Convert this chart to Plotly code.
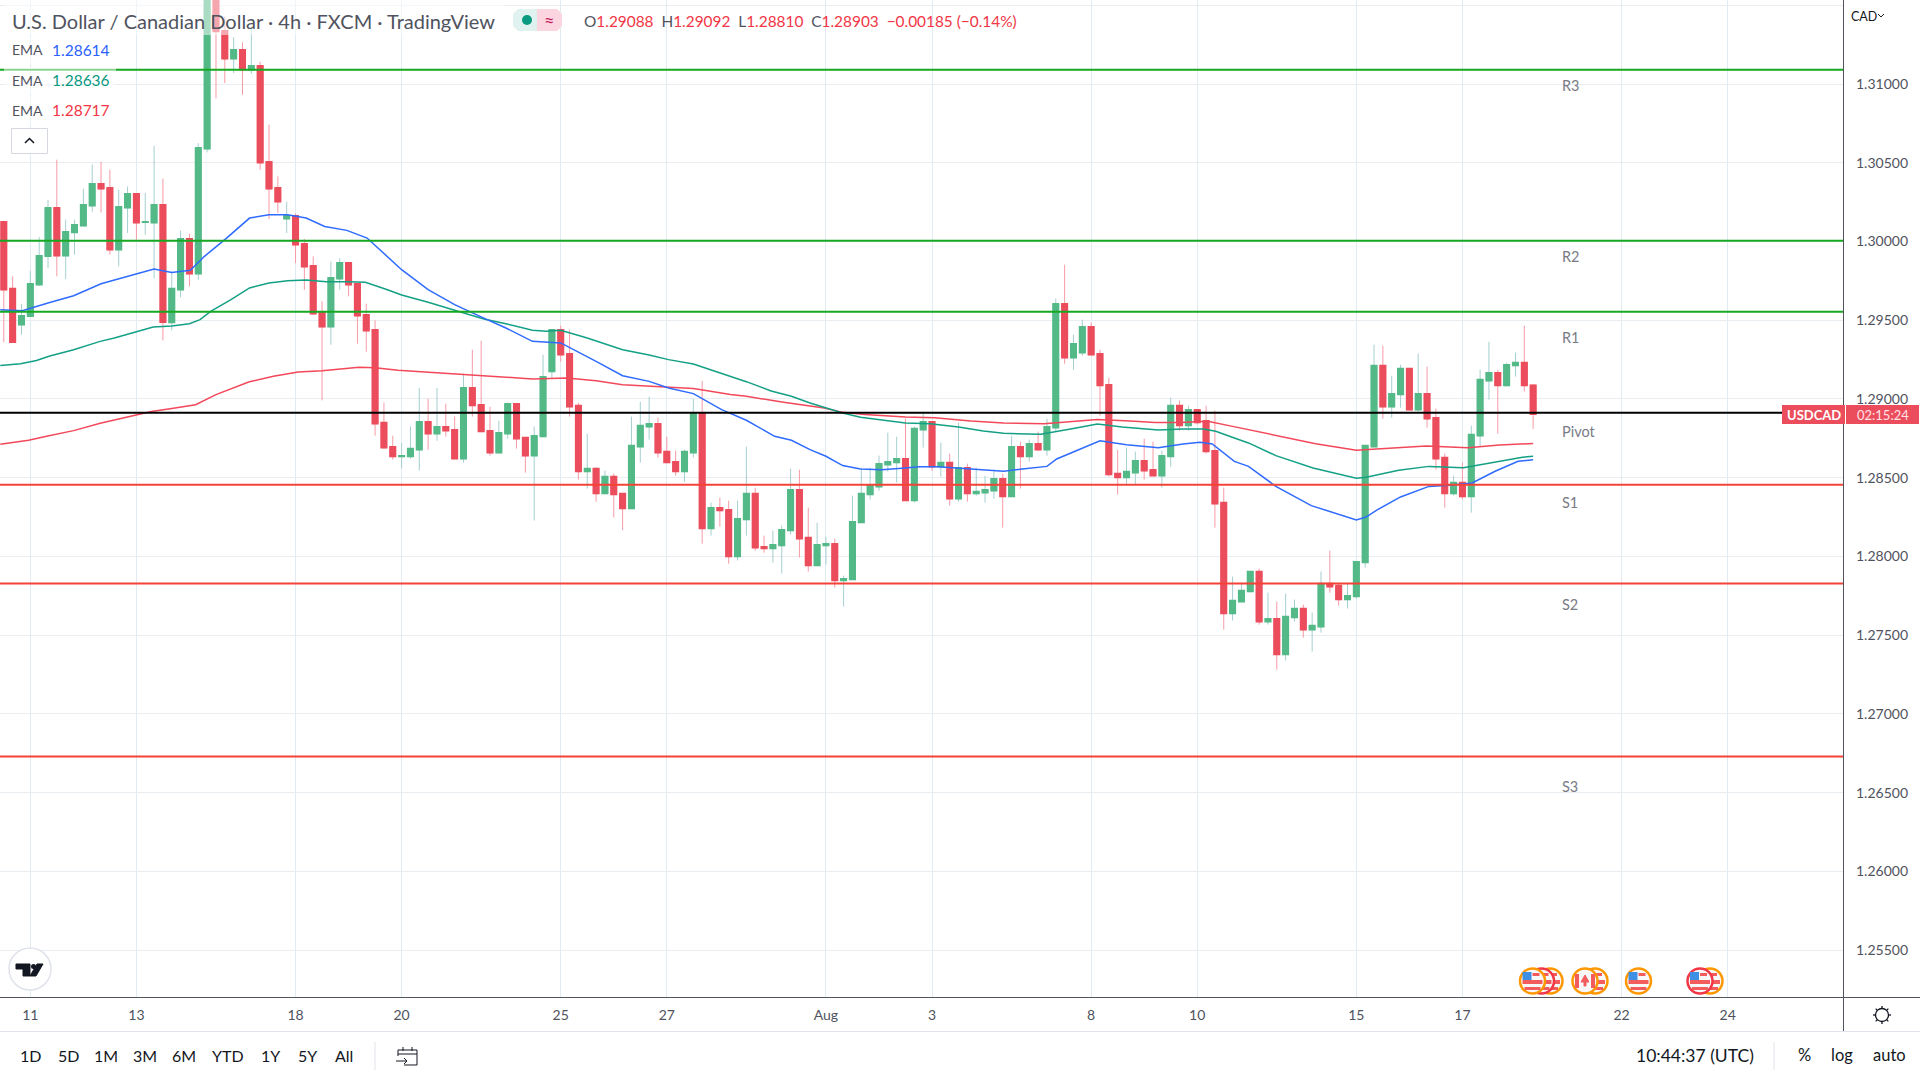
"""USD/CAD 4h candles with EMAs and pivot levels, TradingView style."""

import math

import plotly.graph_objects as go

# first bar sits three bars left of the 11 Jul tick
bar_index = list(range(-3, 171))

opens = [
    1.30126, 1.29701, 1.29472, 1.29525, 1.29726, 1.29906, 1.30215, 1.2991, 1.30058, 1.301,
    1.30228, 1.30367, 1.30342, 1.29948, 1.30215, 1.30304, 1.30122, 1.3012, 1.30234, 1.29485,
    1.29694, 1.30018, 1.29796, 1.30589, 1.3165, 1.31339, 1.31161, 1.31218, 1.31091, 1.31116,
    1.30507, 1.30342, 1.30145, 1.30164, 1.29986, 1.29847, 1.2955, 1.29459, 1.29764, 1.29866,
    1.29732, 1.29535, 1.2944, 1.2885, 1.28697, 1.28634, 1.28634, 1.28678, 1.28856, 1.2878,
    1.28824, 1.28805, 1.28621, 1.29072, 1.28964, 1.28799, 1.28659, 1.2878, 1.2897, 1.28755,
    1.2864, 1.28761, 1.29174, 1.2944, 1.29288, 1.28958, 1.28539, 1.28558, 1.28399, 1.28507,
    1.28399, 1.28304, 1.28697, 1.28824, 1.28843, 1.28666, 1.28602, 1.28539, 1.28659, 1.28913,
    1.28177, 1.2831, 1.28297, 1.27999, 1.28234, 1.28399, 1.28062, 1.2805, 1.28069, 1.28164,
    1.28424, 1.2812, 1.27942, 1.28069, 1.28081, 1.27847, 1.27853, 1.28215, 1.28393, 1.28443,
    1.28583, 1.28596, 1.28621, 1.28355, 1.28805, 1.28856, 1.2857, 1.28596, 1.28367, 1.28564,
    1.28399, 1.28405, 1.28418, 1.28494, 1.2838, 1.28697, 1.28634, 1.28716, 1.28678, 1.28818,
    1.29605, 1.29262, 1.29294, 1.29459, 1.29288, 1.29091, 1.28526, 1.28501, 1.28532, 1.28608,
    1.28551, 1.28513, 1.28634, 1.28958, 1.28831, 1.28932, 1.28862, 1.28672, 1.28342, 1.27637,
    1.27713, 1.27777, 1.27904, 1.27586, 1.27605, 1.27377, 1.27612, 1.27669, 1.27535, 1.27554,
    1.27828, 1.27815, 1.27726, 1.27745, 1.27961, 1.28697, 1.29212, 1.28951, 1.29028, 1.29193,
    1.28932, 1.29034, 1.28881, 1.28628, 1.28399, 1.28469, 1.2838, 1.28767, 1.29116, 1.29167,
    1.29085, 1.29212, 1.29231, 1.29088,
]
highs = [
    1.30126, 1.29779, 1.29605, 1.29815, 1.30029, 1.30266, 1.3052, 1.30139, 1.30139, 1.30335,
    1.30488, 1.30507, 1.30456, 1.30329, 1.3035, 1.30304, 1.30308, 1.30608, 1.30399, 1.29811,
    1.30069, 1.3005, 1.30625, 1.3168, 1.317, 1.3143, 1.31298, 1.31265, 1.31366, 1.31142,
    1.30742, 1.30414, 1.30253, 1.30177, 1.30016, 1.29906, 1.2962, 1.29872, 1.29895, 1.29866,
    1.29732, 1.29605, 1.295, 1.28977, 1.28767, 1.28721, 1.28826, 1.2907, 1.29002, 1.2907,
    1.2897, 1.2889, 1.29161, 1.29313, 1.2937, 1.28951, 1.28862, 1.28977, 1.2897, 1.28755,
    1.28826, 1.29281, 1.29444, 1.29466, 1.2944, 1.28977, 1.2878, 1.28564, 1.28545, 1.28526,
    1.28399, 1.28888, 1.28983, 1.29015, 1.28881, 1.28761, 1.28672, 1.28678, 1.29002, 1.29116,
    1.28342, 1.28374, 1.28355, 1.28355, 1.28697, 1.28437, 1.28132, 1.28164, 1.28196, 1.28558,
    1.28551, 1.2831, 1.28215, 1.28126, 1.28113, 1.27878, 1.28386, 1.28564, 1.28564, 1.2864,
    1.28786, 1.28761, 1.28875, 1.28824, 1.2892, 1.28856, 1.28723, 1.28653, 1.2885, 1.28589,
    1.28564, 1.28513, 1.28551, 1.28526, 1.28767, 1.28729, 1.28742, 1.28793, 1.28875, 1.29637,
    1.29853, 1.29408, 1.29504, 1.29485, 1.29313, 1.29135, 1.28678, 1.28691, 1.28666, 1.28748,
    1.28729, 1.28672, 1.29008, 1.28989, 1.28958, 1.28932, 1.28958, 1.28926, 1.28437, 1.27872,
    1.27828, 1.27904, 1.27923, 1.2777, 1.27713, 1.27764, 1.27726, 1.27694, 1.27644, 1.27904,
    1.28037, 1.27828, 1.27828, 1.27967, 1.28704, 1.29345, 1.29339, 1.29148, 1.29218, 1.29193,
    1.29288, 1.29205, 1.28939, 1.28653, 1.28513, 1.28596, 1.28831, 1.29186, 1.29364, 1.29186,
    1.29231, 1.29294, 1.29466, 1.29092,
]
lows = [
    1.2936, 1.2936, 1.29408, 1.29525, 1.2972, 1.2983, 1.29779, 1.29762, 1.29916, 1.301,
    1.30189, 1.30185, 1.29916, 1.29842, 1.30054, 1.30012, 1.30043, 1.29766, 1.29372, 1.29436,
    1.29646, 1.29715, 1.29758, 1.30566, 1.30909, 1.31006, 1.3107, 1.30932, 1.31066, 1.30456,
    1.30143, 1.30181, 1.30054, 1.29863, 1.29694, 1.29535, 1.28991, 1.29345, 1.29694, 1.29652,
    1.29351, 1.293, 1.28767, 1.28685, 1.28615, 1.28558, 1.28621, 1.28545, 1.28678, 1.28735,
    1.28761, 1.28621, 1.28596, 1.28888, 1.28793, 1.2864, 1.28659, 1.28748, 1.28685, 1.28532,
    1.28228, 1.28761, 1.29127, 1.29237, 1.28888, 1.28488, 1.28431, 1.28348, 1.28399, 1.28247,
    1.28166, 1.28304, 1.28596, 1.28742, 1.28628, 1.28596, 1.28513, 1.28475, 1.28628, 1.28081,
    1.28132, 1.28189, 1.27954, 1.27974, 1.28132, 1.28037, 1.28024, 1.27961, 1.27891, 1.28139,
    1.27993, 1.27904, 1.27942, 1.27948, 1.27802, 1.27681, 1.27853, 1.28215, 1.28361, 1.28418,
    1.28539, 1.28469, 1.28355, 1.28342, 1.28691, 1.28545, 1.28507, 1.28323, 1.28348, 1.28348,
    1.28386, 1.28342, 1.28367, 1.28183, 1.2838, 1.28431, 1.28602, 1.28672, 1.2864, 1.28793,
    1.29224, 1.29186, 1.29275, 1.29281, 1.28894, 1.28507, 1.28393, 1.28456, 1.28456, 1.28488,
    1.28513, 1.28437, 1.2857, 1.28799, 1.28799, 1.28837, 1.28653, 1.28183, 1.27535, 1.27593,
    1.27713, 1.27777, 1.27567, 1.27567, 1.27281, 1.27339, 1.27586, 1.27485, 1.27396, 1.27516,
    1.2777, 1.27688, 1.27669, 1.27732, 1.27929, 1.28697, 1.28875, 1.28881, 1.28945, 1.28926,
    1.2892, 1.28818, 1.28551, 1.2831, 1.28386, 1.28361, 1.28278, 1.28697, 1.28996, 1.2878,
    1.29085, 1.29142, 1.29047, 1.2881,
]
closes = [
    1.29694, 1.2936, 1.29529, 1.29732, 1.2991, 1.30215, 1.2991, 1.30062, 1.30107, 1.30234,
    1.30367, 1.30335, 1.29948, 1.30221, 1.30304, 1.3012, 1.30126, 1.30234, 1.29487, 1.29701,
    1.30018, 1.29796, 1.30596, 1.316, 1.31334, 1.31161, 1.31218, 1.31091, 1.31116, 1.30501,
    1.30335, 1.30253, 1.30164, 1.2998, 1.2984, 1.29542, 1.29459, 1.2977, 1.29866, 1.29726,
    1.29529, 1.29434, 1.28843, 1.28691, 1.28634, 1.2864, 1.28685, 1.28856, 1.2878, 1.28824,
    1.28799, 1.28621, 1.29072, 1.28958, 1.28793, 1.28659, 1.28786, 1.2897, 1.28748, 1.2864,
    1.28767, 1.29142, 1.2944, 1.29281, 1.28951, 1.28539, 1.28558, 1.28399, 1.28507, 1.28393,
    1.28304, 1.28704, 1.28831, 1.28843, 1.28659, 1.28596, 1.28539, 1.28666, 1.28913, 1.28177,
    1.2831, 1.28291, 1.27999, 1.2824, 1.28399, 1.28056, 1.2805, 1.28075, 1.2817, 1.28424,
    1.28113, 1.27942, 1.28075, 1.28081, 1.27847, 1.27859, 1.28221, 1.28399, 1.2845, 1.28589,
    1.28602, 1.28621, 1.28355, 1.28812, 1.28856, 1.2857, 1.28596, 1.28367, 1.28564, 1.28399,
    1.28412, 1.28424, 1.28494, 1.2838, 1.28697, 1.28634, 1.28716, 1.28678, 1.28824, 1.29605,
    1.29262, 1.29351, 1.29459, 1.29281, 1.29085, 1.2852, 1.28501, 1.28539, 1.28608, 1.28545,
    1.28513, 1.2864, 1.28958, 1.28831, 1.28932, 1.2885, 1.28666, 1.28335, 1.27637, 1.2772,
    1.27783, 1.27904, 1.27586, 1.27605, 1.27377, 1.27618, 1.27669, 1.27535, 1.27561, 1.27828,
    1.27808, 1.27726, 1.27751, 1.27967, 1.28704, 1.29212, 1.28951, 1.29034, 1.29193, 1.28932,
    1.29034, 1.28875, 1.28621, 1.28399, 1.28469, 1.2838, 1.28774, 1.29123, 1.29167, 1.29085,
    1.29218, 1.29231, 1.29085, 1.28903,
]

ema_blue_x = [
    -3.4, -0.9, 2, 4.9, 8, 11.3, 14, 16, 18.1, 19.7, 22.2, 24.8, 27, 29.1, 31.2, 33.3, 35.8,
    38.1, 42, 45, 48, 51.3, 53.8, 56.8, 58.4, 60, 64, 67, 70, 72.2, 75, 78.2, 81, 84.2, 86.1,
    88.2, 90, 91.9, 93.9, 96.3, 98.6, 100.6, 102.7, 105, 107.8, 110.1, 112.2, 115, 116.1,
    118.2, 121, 124, 127.6, 130.4, 132.3, 133.7, 136.2, 137.8, 140.9, 144.9, 148, 150, 151.1,
    152.4, 155, 158.2, 160.5, 163.1, 165.7, 168.3, 170,
]
ema_blue = [
    1.29567, 1.29561, 1.2961, 1.29656, 1.29732, 1.29785, 1.29825, 1.29804, 1.29817, 1.29906,
    1.30022, 1.30149, 1.3017, 1.3017, 1.30149, 1.30096, 1.30071, 1.30022, 1.29821, 1.29694,
    1.29599, 1.29514, 1.29451, 1.29366, 1.2936, 1.29356, 1.29239, 1.29148, 1.29112, 1.2907,
    1.29034, 1.28932, 1.28865, 1.28763, 1.28738, 1.28678, 1.28636, 1.28577, 1.28556, 1.28551,
    1.2856, 1.2857, 1.2857, 1.28562, 1.28551, 1.28541, 1.28556, 1.28572, 1.28619, 1.28668,
    1.28735, 1.2871, 1.28691, 1.28714, 1.28725, 1.28714, 1.28604, 1.28572, 1.28445, 1.28323,
    1.28266, 1.28232, 1.2825, 1.28297, 1.28378, 1.28445, 1.28452, 1.28467, 1.28541, 1.28604,
    1.28614,
]
ema_teal_x = [
    -3.4, -1.1, 0.7, 2.1, 4.9, 7.9, 9.5, 11.8, 13.9, 16, 18, 19.2, 20.4, 22.7, 24.8, 27, 29.1,
    31.2, 33.5, 35.8, 37.9, 40.4, 42, 45, 48, 51.3, 53.8, 56.8, 58.4, 60, 63, 67, 70, 72.2, 75,
    77.8, 81, 83.8, 86.1, 88.2, 90, 91.9, 93.9, 96.7, 99, 101.8, 105, 107.8, 110.1, 114.3,
    115.2, 118, 120.7, 123.5, 127.6, 130.4, 132.7, 134.1, 136.2, 137.8, 140.9, 145.1, 150,
    151.1, 154.8, 158.2, 162.1, 166.2, 168.8, 170,
]
ema_teal = [
    1.29212, 1.29224, 1.29245, 1.29271, 1.29313, 1.29366, 1.29387, 1.29423, 1.29457, 1.29463,
    1.29478, 1.29504, 1.29557, 1.29631, 1.29705, 1.29737, 1.29751, 1.29756, 1.29745, 1.29745,
    1.29741, 1.29694, 1.2966, 1.29614, 1.29563, 1.29508, 1.29478, 1.29436, 1.2943, 1.29436,
    1.29387, 1.29313, 1.29279, 1.2925, 1.29222, 1.29171, 1.2911, 1.29051, 1.29017, 1.28975,
    1.28943, 1.28911, 1.28884, 1.28865, 1.28848, 1.28843, 1.28822, 1.28797, 1.28782, 1.28776,
    1.28784, 1.28812, 1.28841, 1.28822, 1.28803, 1.2881, 1.2881, 1.28795, 1.28752, 1.28721,
    1.2864, 1.28562, 1.28496, 1.28503, 1.28547, 1.28572, 1.28564, 1.28606, 1.2863, 1.28636,
]
ema_red_x = [
    -3.4, -0.2, 2.1, 4.9, 7.9, 10.4, 13.7, 16, 18.7, 21, 24.7, 27.5, 30.3, 33, 37.2, 39, 41.6,
    45.5, 49, 53.1, 56.8, 60.7, 64, 67, 71.3, 75, 79.2, 81, 85.2, 89.8, 91.9, 94.4, 99, 102.3,
    106.4, 110.1, 114.7, 117.5, 120.7, 124.4, 127.2, 130, 133.2, 136, 137.8, 141.2, 145.4,
    150, 154.2, 157.9, 162.6, 166.2, 170,
]
ema_red = [
    1.28712, 1.28738, 1.28767, 1.28799, 1.28846, 1.28877, 1.2892, 1.28939, 1.28964, 1.29028,
    1.29108, 1.29144, 1.29171, 1.2918, 1.29201, 1.29199, 1.29182, 1.29169, 1.29157, 1.29144,
    1.29127, 1.29133, 1.29116, 1.29091, 1.29078, 1.29066, 1.29028, 1.29017, 1.28979, 1.28943,
    1.28915, 1.28901, 1.28886, 1.28881, 1.2886, 1.28848, 1.28843, 1.28856, 1.28869, 1.2886,
    1.2885, 1.2885, 1.28858, 1.28826, 1.28805, 1.28763, 1.28716, 1.28674, 1.28687, 1.28702,
    1.28691, 1.28708, 1.28717,
]

resistance_levels = [1.31091, 1.30005, 1.29554]
support_levels = [1.28456, 1.27828, 1.26729]
pivot_level = 1.28913

# the top gridline at 1.31500 has no label in the reference
price_ticks = [1.255 + 0.005 * n for n in range(13)]
price_labels = [f"{p:.5f}" for p in price_ticks[:-1]] + [""]
day_ticks = [0, 12, 30, 42, 60, 72, 90, 102, 120, 132, 150, 162, 180, 192]
day_labels = ["11", "13", "18", "20", "25", "27", "Aug", "3", "8", "10", "15", "17", "22", "24"]

range_buttons = ["1D", "5D", "1M", "3M", "6M", "YTD", "1Y", "5Y", "All"]

FONT = "Lato"
W, H = 1920, 1080
GREEN, RED = "#53b987", "#eb4d5c"
AXIS = "#50535e"
SOFT = "#e0e3eb"


def px(x):
    return x / W


def py(y):
    return 1 - y / H


def path(points, close=False):
    text = "M " + " L ".join(f"{px(x):.5f} {py(y):.5f}" for x, y in points)
    return text + " Z" if close else text


fig = go.Figure()

# wicks are lighter than the bodies, so the pale candles go underneath
fig.add_trace(
    go.Candlestick(
        x=bar_index,
        open=opens,
        high=highs,
        low=lows,
        close=closes,
        increasing=dict(line=dict(color="#a5cfd0", width=1), fillcolor=GREEN),
        decreasing=dict(line=dict(color="#f79aa6", width=1), fillcolor=RED),
        hoverinfo="skip",
    )
)
fig.add_trace(
    go.Candlestick(
        x=bar_index,
        open=opens,
        high=[max(o, c) for o, c in zip(opens, closes)],
        low=[min(o, c) for o, c in zip(opens, closes)],
        close=closes,
        increasing=dict(line=dict(color=GREEN, width=1.5), fillcolor=GREEN),
        decreasing=dict(line=dict(color=RED, width=1.5), fillcolor=RED),
        hoverinfo="skip",
    )
)

for xs, ys, color in [
    (ema_red_x, ema_red, "#f2485a"),
    (ema_teal_x, ema_teal, "#14a085"),
    (ema_blue_x, ema_blue, "#2f6bff"),
]:
    fig.add_trace(go.Scatter(x=xs, y=ys, mode="lines", line=dict(color=color, width=1.5), hoverinfo="skip"))

for level in resistance_levels:
    fig.add_hline(y=level, line=dict(color="#17a821", width=2))
for level in support_levels:
    fig.add_hline(y=level, line=dict(color="#f44336", width=2))
fig.add_hline(y=pivot_level, line=dict(color="#000000", width=2))


def rect(x0, y0, x1, y1, fill, line=None, width=1):
    fig.add_shape(
        type="rect", xref="paper", yref="paper",
        x0=px(x0), x1=px(x1), y0=py(y0), y1=py(y1),
        fillcolor=fill, line=dict(color=line or "rgba(0,0,0,0)", width=width if line else 0),
    )


def circle(cx, cy, r, fill, line=None, width=1):
    fig.add_shape(
        type="circle", xref="paper", yref="paper",
        x0=px(cx - r), x1=px(cx + r), y0=py(cy + r), y1=py(cy - r),
        fillcolor=fill, line=dict(color=line or "rgba(0,0,0,0)", width=width if line else 0),
    )


def stroke(points, color, width=1, fill=None, close=False):
    fig.add_shape(
        type="path", xref="paper", yref="paper", path=path(points, close),
        line=dict(color=color, width=width), fillcolor=fill,
    )


def label(x, y, text, size=14, color="#131722", anchor="left", **kwargs):
    fig.add_annotation(
        xref="paper", yref="paper", x=px(x), y=py(y), text=text, showarrow=False,
        xanchor=anchor, yanchor="middle", font=dict(family=FONT, size=size, color=color),
        borderpad=0, **kwargs,
    )


# translucent header panels over the candles
rect(4, 0, 504, 35, "rgba(255,255,255,0.5)")
for top in (37, 67, 97):
    rect(4, top, 116, top + 27, "rgba(255,255,255,0.5)")

# axis frame
stroke([(0, 997.5), (1920, 997.5)], AXIS)
stroke([(1843.5, 0), (1843.5, 1031)], AXIS)
stroke([(0, 1031.5), (1920, 1031.5)], SOFT)
stroke([(375, 1042), (375, 1070)], SOFT)
stroke([(1774, 1042), (1774, 1070)], SOFT)

# title and legend
label(11, 21, "U.S. Dollar / Canadian Dollar · 4h · FXCM · TradingView", size=20, color="#50535e")
stroke([(518, 9), (537, 9), (537, 31), (518, 31), (513, 26), (513, 14)], "rgba(0,0,0,0)", fill="#dff2ef", close=True)
stroke([(537, 9), (557, 9), (562, 14), (562, 26), (557, 31), (537, 31)], "rgba(0,0,0,0)", fill="#fbd5e0", close=True)
circle(527, 20, 5, "#089981")
label(549, 20, "≈", size=18, color="#c2185b", anchor="center")

ohlc = (
    "O<span style='color:#f23645'>1.29088</span>  H<span style='color:#f23645'>1.29092</span>  "
    "L<span style='color:#f23645'>1.28810</span>  C<span style='color:#f23645'>1.28903</span>  "
    "<span style='color:#f23645'>−0.00185 (−0.14%)</span>"
)
label(583, 21, ohlc, size=15.4, color="#50535e")

for y, value, color in [(50, "1.28614", "#2962ff"), (80, "1.28636", "#089981"), (110, "1.28717", "#f23645")]:
    label(11, y, "EMA", size=14, color="#50535e")
    label(51, y, value, size=15.5, color=color)

rect(11.5, 128.5, 47.5, 153.5, "#ffffff", line="#d6d8e0")
stroke([(25, 143), (29.5, 138.5), (34, 143)], "#131722", width=1.5)

# pivot labels
for y, name in [(86, "R3"), (256, "R2"), (337, "R1"), (431, "Pivot"), (502, "S1"), (604, "S2"), (786, "S3")]:
    label(1561, y, name, size=14.5, color="#787b86")

# last price tag
rect(1782, 405, 1845, 424, RED)
rect(1846, 405, 1919, 424, RED)
label(1813.5, 415, "<b>USDCAD</b>", size=13, color="#ffffff", anchor="center")
label(1882.5, 415, "02:15:24", size=13, color="#ffe3e6", anchor="center")

label(1864, 16, "CAD", size=12.5, color="#131722", anchor="center")
stroke([(1878, 14), (1881, 17), (1884, 14)], "#131722")


# event flags along the bottom
def us_flag(cx, cy, ring):
    circle(cx, cy, 12.5, "#f8f8fb", line=ring, width=2.5)
    rect(cx - 10, cy - 1, cx + 10, cy + 3, "#f25c5c")
    rect(cx - 8, cy + 6, cx + 8, cy + 9, "#f25c5c")
    rect(cx, cy - 8, cx + 7, cy - 5, "#f25c5c")
    rect(cx - 10, cy - 9, cx - 1, cy - 1, "#3f8fe5")


def ca_flag(cx, cy, ring):
    circle(cx, cy, 12.5, "#f8f8fb", line=ring, width=2.5)
    rect(cx - 10, cy - 7, cx - 6, cy + 7, "#f25c5c")
    rect(cx + 6, cy - 7, cx + 10, cy + 7, "#f25c5c")
    stroke([(cx, cy - 6), (cx + 4, cy + 1), (cx + 1, cy + 1), (cx + 1, cy + 5),
            (cx - 1, cy + 5), (cx - 1, cy + 1), (cx - 4, cy + 1)], "#f25c5c", fill="#f25c5c", close=True)


ORANGE, RING_RED = "#ff9800", "#f23645"
us_flag(1550, 981, ORANGE)
us_flag(1541.5, 981, RING_RED)
us_flag(1532.5, 981, ORANGE)
us_flag(1595, 981, ORANGE)
ca_flag(1585, 981, ORANGE)
us_flag(1638.5, 981, ORANGE)
us_flag(1710, 981, ORANGE)
us_flag(1700, 981, RING_RED)

# logo badge
circle(30, 969, 21, "#ffffff", line=SOFT, width=1.5)
stroke([(16, 964), (30, 964), (30, 976), (23, 976), (23, 969), (16, 969)], "#131722", fill="#131722", close=True)
circle(33.5, 966.5, 2.5, "#131722")
stroke([(37, 964), (43, 964), (36, 976), (30, 976)], "#131722", fill="#131722", close=True)

# gear icon
circle(1882, 1015, 6.5, "#ffffff", line="#131722", width=1.3)
for k in range(8):
    a = k * math.pi / 4
    stroke([(1882 + 6.5 * math.cos(a), 1015 + 6.5 * math.sin(a)),
            (1882 + 9 * math.cos(a), 1015 + 9 * math.sin(a))], "#131722", width=1.3)

# bottom toolbar
for x, text in zip([30, 68, 106, 145, 184, 228, 270, 307, 344], range_buttons):
    label(x, 1055, text, size=16, anchor="center")
stroke([(398, 1056), (398, 1050), (417, 1050), (417, 1065), (404, 1065)], "#131722")
stroke([(398, 1054), (417, 1054)], "#131722")
stroke([(403, 1047), (403, 1051)], "#131722")
stroke([(412, 1047), (412, 1051)], "#131722")
stroke([(396, 1061), (407, 1061)], "#131722")
stroke([(404, 1058), (407, 1061), (404, 1064)], "#131722")
label(1695, 1055, "10:44:37 (UTC)", size=17.5, anchor="center")
label(1804, 1055, "%", size=16.5, anchor="center")
label(1842, 1055, "log", size=16.5, anchor="center")
label(1889, 1055, "auto", size=16.5, anchor="center")

fig.update_layout(
    width=W,
    height=H,
    margin=dict(l=0, r=0, t=0, b=0),
    paper_bgcolor="#ffffff",
    plot_bgcolor="#ffffff",
    showlegend=False,
    boxgap=0.1,
    xaxis=dict(
        domain=[0, 1843 / W],
        range=[-3.43, 205.05],
        rangeslider=dict(visible=False),
        tickmode="array",
        tickvals=day_ticks,
        ticktext=day_labels,
        showgrid=True,
        gridcolor="#e1ebf2",
        gridwidth=1,
        zeroline=False,
        ticks="",
        ticklabelstandoff=8,
        tickfont=dict(family=FONT, size=14, color="#50535e"),
    ),
    yaxis=dict(
        domain=[1 - 997 / H, 1],
        range=[1.25202, 1.31534],
        side="right",
        tickmode="array",
        tickvals=price_ticks,
        ticktext=price_labels,
        showgrid=True,
        gridcolor="#e8edf2",
        gridwidth=1,
        zeroline=False,
        ticks="",
        ticklabelstandoff=12,
        tickfont=dict(family=FONT, size=14, color="#50535e"),
    ),
)

fig.write_html(
    "out.html",
    config={"displayModeBar": False},
    post_script="document.body.style.margin='0';document.body.style.overflow='hidden';",
)
